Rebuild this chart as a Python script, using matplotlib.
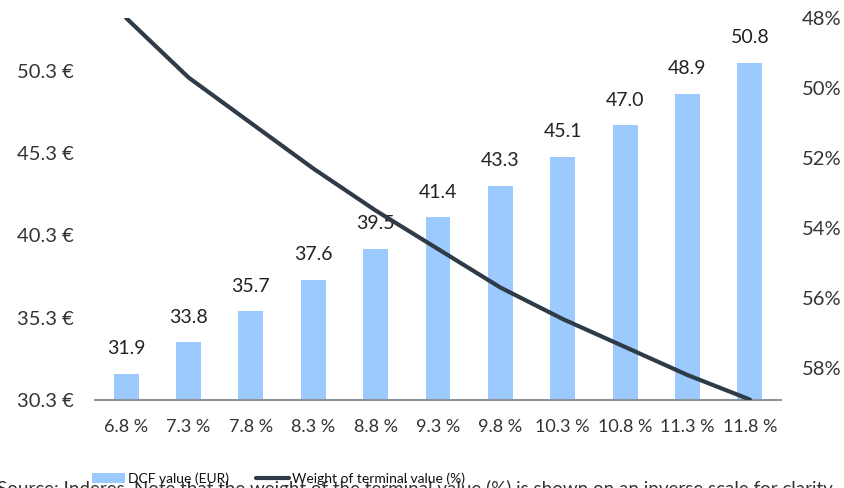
import matplotlib.pyplot as plt
import numpy as np

plt.rcParams['font.family'] = ['Lato', 'DejaVu Sans']

# WACC scenarios
wacc = ['6.8 %', '7.3 %', '7.8 %', '8.3 %', '8.8 %', '9.3 %',
        '9.8 %', '10.3 %', '10.8 %', '11.3 %', '11.8 %']
dcf_value = [31.9, 33.8, 35.7, 37.6, 39.5, 41.4, 43.3, 45.1, 47.0, 48.9, 50.8]
tv_weight = [48.0, 49.7, 51.0, 52.3, 53.5, 54.6, 55.7, 56.6, 57.4, 58.2, 58.9]

left_ticks = [30.3, 35.3, 40.3, 45.3, 50.3]
right_ticks = [48, 50, 52, 54, 56, 58]

bar_color = '#9ccaff'
line_color = '#2f3b47'
text_color = '#333333'

fig = plt.figure(figsize=(8.45, 4.88), dpi=100)
ax = fig.add_axes([0.1124, 0.1803, 0.8119, 0.7828])
ax2 = ax.twinx()

x = np.arange(len(wacc))
ax.bar(x, dcf_value, width=0.4, color=bar_color, label='DCF value (EUR)', zorder=2)
for xi, v in zip(x, dcf_value):
    ax.annotate(f'{v:.1f}', (xi, v), xytext=(0, 12), textcoords='offset points',
                ha='center', va='bottom', fontsize=14, color='#222222')

ax.set_ylim(30.3, 53.52)
ax.set_xlim(-0.5, len(wacc) - 0.5)
ax.set_yticks(left_ticks)
ax.set_yticklabels([f'{t:.1f} €' for t in left_ticks])
ax.set_xticks(x)
ax.set_xticklabels(wacc)

ax2.plot(x, tv_weight, color=line_color, lw=3, solid_capstyle='round',
         label='Weight of terminal value (%)', zorder=3)
ax2.set_ylim(58.914, 48)
ax2.set_yticks(right_ticks)
ax2.set_yticklabels([f'{t}%' for t in right_ticks])

for a in (ax, ax2):
    for s in ['top', 'left', 'right', 'bottom']:
        a.spines[s].set_visible(False)
    a.tick_params(length=0, labelsize=14.5, colors=text_color, pad=15)
ax.tick_params(axis='x', labelsize=13, pad=14)
ax.spines['bottom'].set_visible(True)
ax.spines['bottom'].set_color('#8c9299')
ax.spines['bottom'].set_linewidth(1.5)

h1, l1 = ax.get_legend_handles_labels()
h2, l2 = ax2.get_legend_handles_labels()
fig.legend(h1 + h2, l1 + l2, loc='center left', bbox_to_anchor=(92 / 845, 0.02), ncol=2,
           frameon=False, fontsize=10, handlelength=2.4, handletextpad=0.2,
           columnspacing=1.9, borderpad=0, borderaxespad=0, labelcolor='#111111')

fig.text(-0.003, -0.014, 'Source: Inderes. Note that the weight of the terminal value (%) is shown on an inverse scale for clarity',
         fontsize=13.5, color=text_color, ha='left', va='baseline')

fig.savefig('out.png', dpi=100)
